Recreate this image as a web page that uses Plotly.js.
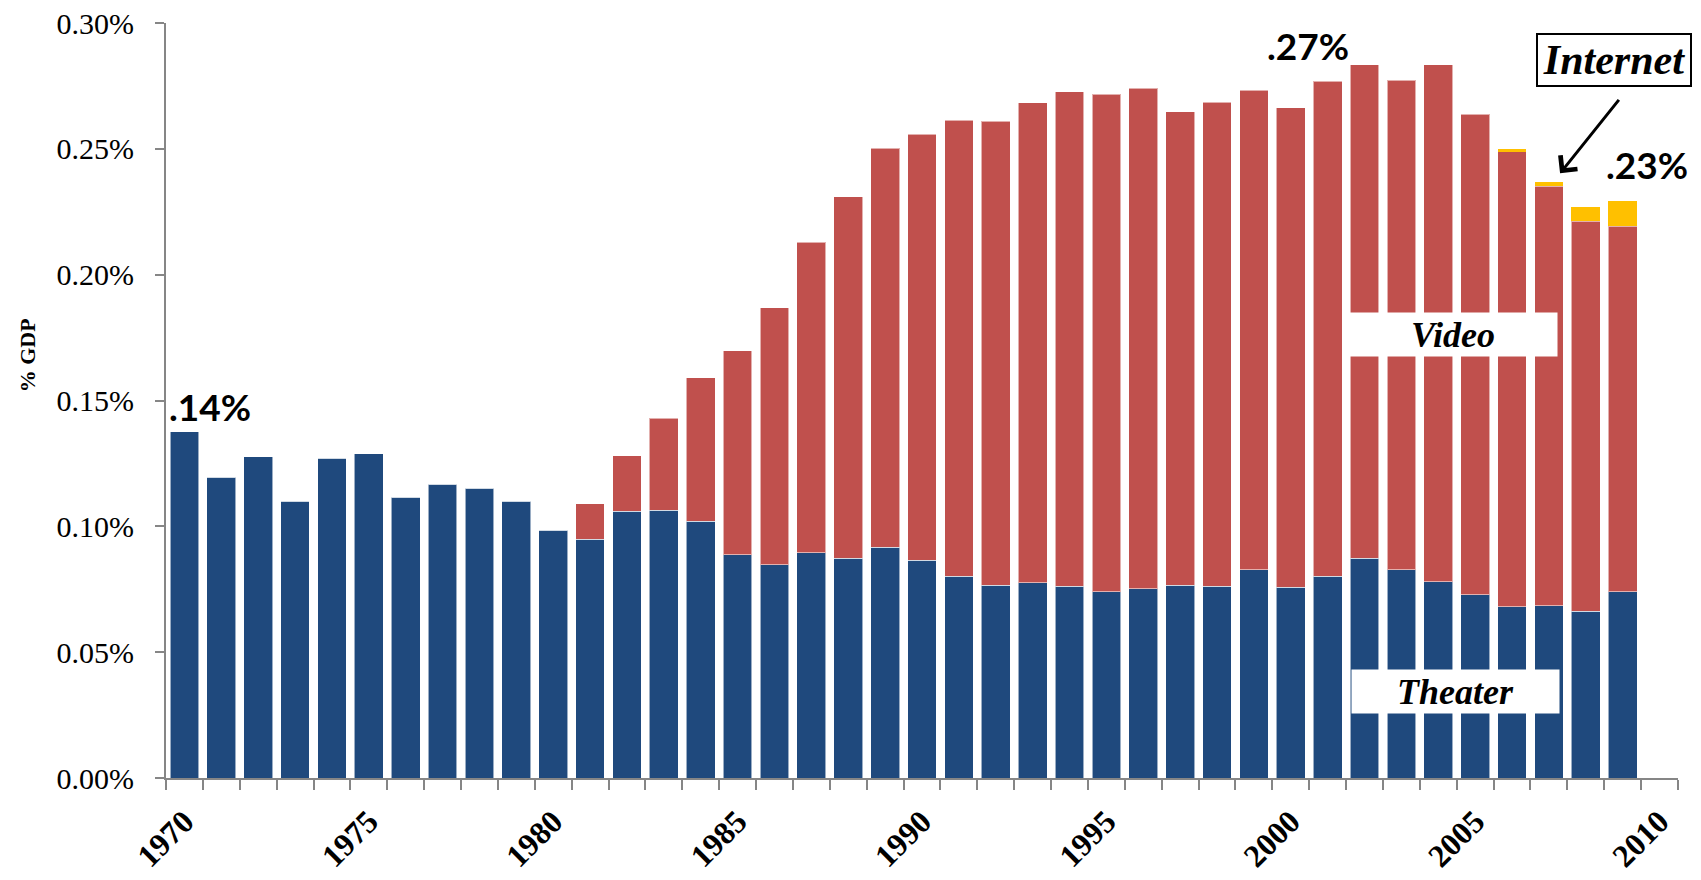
<!DOCTYPE html>
<html>
<head>
<meta charset="utf-8">
<script src="https://cdn.plot.ly/plotly-3.0.1.min.js"></script>
<style>html,body{margin:0;padding:0;background:#fff;}#chart{width:1701px;height:880px;}</style>
</head>
<body>
<div id="chart"></div>
<script>
// Years shown on the axis (2010 has no bar)
const years = [1970,1971,1972,1973,1974,1975,1976,1977,1978,1979,
               1980,1981,1982,1983,1984,1985,1986,1987,1988,1989,
               1990,1991,1992,1993,1994,1995,1996,1997,1998,1999,
               2000,2001,2002,2003,2004,2005,2006,2007,2008,2009];
// % of GDP, segment values
const theater = [0.1376,0.1196,0.1277,0.1100,0.1271,0.1289,0.1115,0.1167,0.1151,0.1099,
                 0.0984,0.0948,0.1060,0.1064,0.1021,0.0887,0.0848,0.0896,0.0874,0.0917,
                 0.0866,0.0801,0.0766,0.0775,0.0762,0.0740,0.0753,0.0766,0.0762,0.0827,
                 0.0758,0.0801,0.0874,0.0827,0.0779,0.0728,0.0680,0.0684,0.0663,0.0740];
const video   = [0,0,0,0,0,0,0,0,0,0,
                 0,0.0142,0.0220,0.0366,0.0569,0.0811,0.1021,0.1232,0.1436,0.1586,
                 0.1692,0.1813,0.1844,0.1908,0.1964,0.1976,0.1988,0.1882,0.1923,0.1905,
                 0.1905,0.1967,0.1960,0.1945,0.2055,0.1910,0.1809,0.1667,0.1549,0.1452];
const internet= [0,0,0,0,0,0,0,0,0,0,
                 0,0,0,0,0,0,0,0,0,0,
                 0,0,0,0,0,0,0,0,0,0,
                 0,0,0,0,0,0,0.0009,0.0017,0.0057,0.0099];
const labelYears = [1970,1975,1980,1985,1990,1995,2000,2005,2010];
const yTicks = [0,0.05,0.10,0.15,0.20,0.25,0.30];
const yTickText = ['0.00%','0.05%','0.10%','0.15%','0.20%','0.25%','0.30%'];

const AX = '#868686';
const serif = 'Liberation Serif, Times New Roman, serif';
const sans = 'Lato, Liberation Sans, Arial, sans-serif';
const edge = {color:'rgba(255,255,255,0.55)', width:1};

const traces = [
  {type:'bar', x:years, y:theater, name:'Theater', marker:{color:'#1F497D', line:edge}, hoverinfo:'x+y'},
  {type:'bar', x:years, y:video, name:'Video', marker:{color:'#C0504D', line:edge}, hoverinfo:'x+y'},
  {type:'bar', x:years, y:internet, name:'Internet', marker:{color:'#FFC000', line:{width:0}}, hoverinfo:'x+y'}
];

const layout = {
  width:1701, height:880,
  margin:{l:166, r:23, t:23, b:102},
  paper_bgcolor:'#fff', plot_bgcolor:'#fff',
  barmode:'stack', bargap:0.22,
  showlegend:false,
  xaxis:{
    range:[1969.5,2010.5], tickmode:'array', tickvals:labelYears,
    ticktext:labelYears.map(String),
    ticks:'', tickangle:-45,
    tickfont:{family:serif, size:32, color:'#000', weight:'bold'},
    showline:true, linecolor:AX, linewidth:2, showgrid:false, zeroline:false,
    ticklabelstandoff:10,
    minor:{tickmode:'linear', tick0:1969.5, dtick:1, ticks:'outside', ticklen:10, tickwidth:2, tickcolor:AX, showgrid:false}
  },
  yaxis:{
    range:[0,0.30], tickmode:'array', tickvals:yTicks, ticktext:yTickText,
    ticks:'outside', ticklen:9, tickwidth:2, tickcolor:AX,
    tickfont:{family:serif, size:30, color:'#000'},
    showline:true, linecolor:AX, linewidth:2, showgrid:false, zeroline:false,
    ticklabelstandoff:15
  },
  annotations:[
    {xref:'paper', yref:'paper', x:-0.0919, y:0.56, xanchor:'center', yanchor:'middle', text:'% GDP', textangle:-90, showarrow:false,
     font:{family:serif, size:22, color:'#000', weight:'bold'}},
    {xref:'paper', yref:'paper', x:0.0288, y:0.4923, xanchor:'center', yanchor:'middle', text:'.14%', showarrow:false,
     font:{family:sans, size:37, color:'#000', weight:'bold'}},
    {xref:'paper', yref:'paper', x:0.755, y:0.9698, xanchor:'center', yanchor:'middle', text:'.27%', showarrow:false,
     font:{family:sans, size:37, color:'#000', weight:'bold'}},
    {xref:'paper', yref:'paper', x:0.9798, y:0.8122, xanchor:'center', yanchor:'middle', text:'.23%', showarrow:false,
     font:{family:sans, size:37, color:'#000', weight:'bold'}},
    {xref:'paper', yref:'paper', x:0.8512, y:0.587, xanchor:'center', yanchor:'middle', text:'<i>Video</i>', showarrow:false,
     bgcolor:'#fff', width:206, height:41,
     font:{family:serif, size:36, color:'#000', weight:'bold'}},
    {xref:'paper', yref:'paper', x:0.8528, y:0.1142, xanchor:'center', yanchor:'middle', text:'<i>Theater</i>', showarrow:false,
     bgcolor:'#fff', width:205, height:41,
     font:{family:serif, size:36, color:'#000', weight:'bold'}},
    {xref:'paper', yref:'paper', x:0.9577, y:0.9512, xanchor:'center', yanchor:'middle', text:'<i>Internet</i>', showarrow:false,
     bgcolor:'#fff', bordercolor:'#000', borderwidth:2, borderpad:2, width:148, height:46,
     font:{family:serif, size:42, color:'#000', weight:'bold'}},
    {xref:'paper', yref:'paper', x:0.922, y:0.8009, text:'', showarrow:true,
     ax:60, ay:-75, arrowhead:4, arrowsize:1.4, arrowwidth:3, arrowcolor:'#000'}
  ]
};

Plotly.newPlot('chart', traces, layout, {displayModeBar:false, staticPlot:true});
</script>
</body>
</html>
